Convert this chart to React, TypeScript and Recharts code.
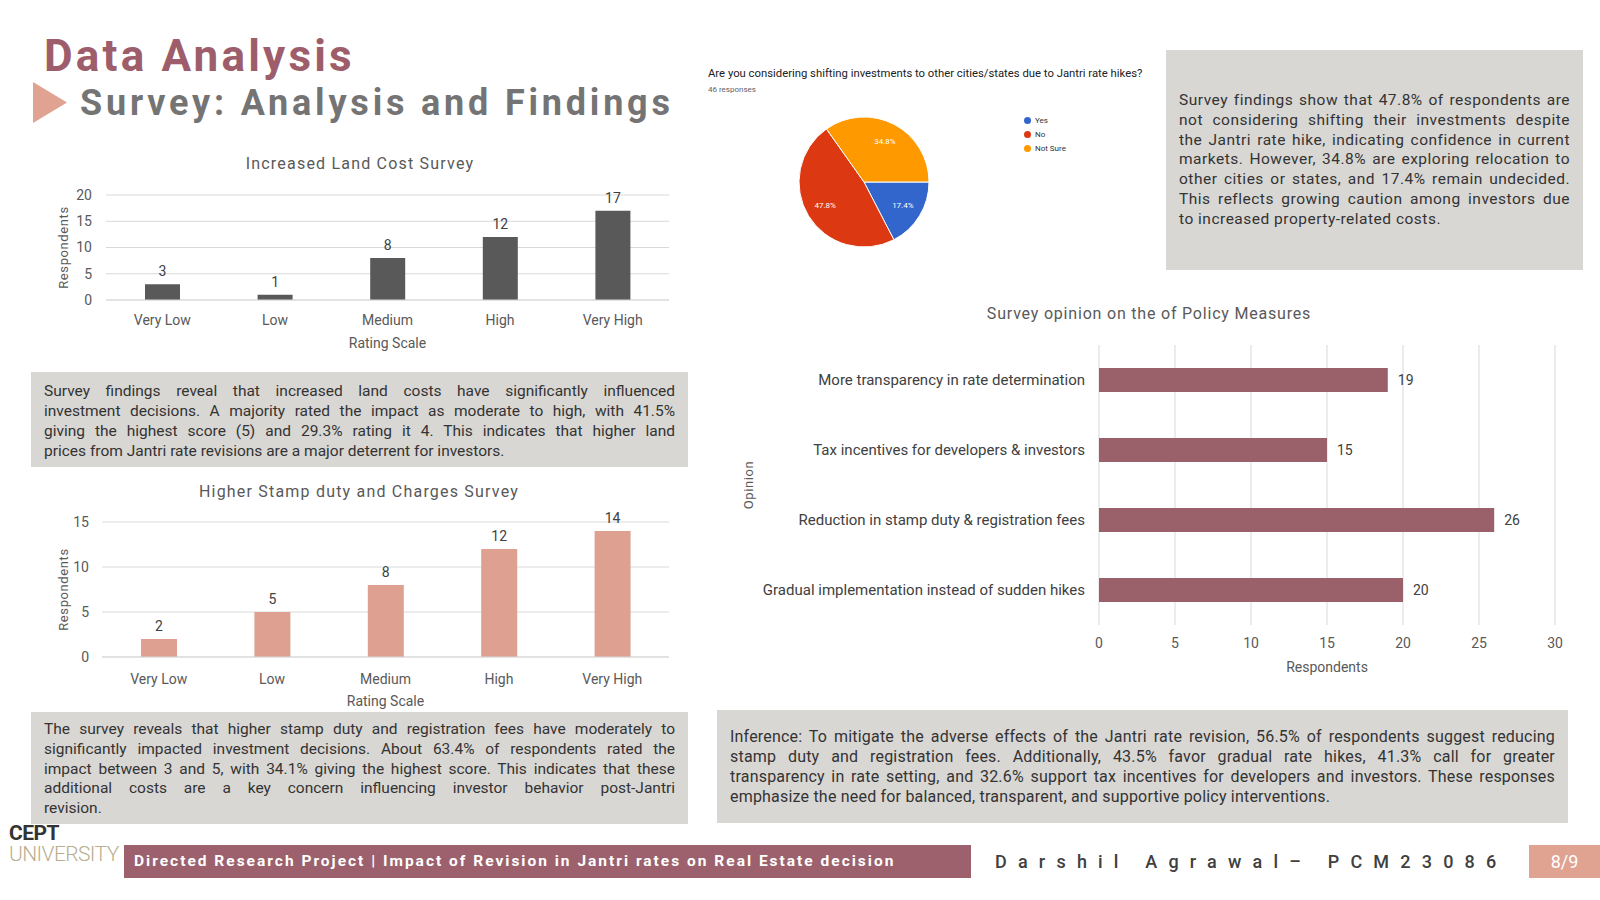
import React from 'react';
import { BarChart, Bar, XAxis, YAxis, CartesianGrid, LabelList, PieChart, Pie, Cell, Legend } from 'recharts';

const FONT = 'Roboto, "Noto Sans", sans-serif';

const ratingScale = ['Very Low', 'Low', 'Medium', 'High', 'Very High'];
const landCostValues = [3, 1, 8, 12, 17];
const landCostTicks = [0, 5, 10, 15, 20];
const stampDutyValues = [2, 5, 8, 12, 14];
const stampDutyTicks = [0, 5, 10, 15];

const shiftAnswers = ['Yes', 'No', 'Not Sure'];
const shiftShares = [17.4, 47.8, 34.8];
const shiftColors = ['#3366cc', '#dc3912', '#ff9900'];

const policyMeasures = [
  'More transparency in rate determination',
  'Tax incentives for developers & investors',
  'Reduction in stamp duty & registration fees',
  'Gradual implementation instead of sudden hikes',
];
const policyValues = [19, 15, 26, 20];
const policyTicks = [0, 5, 10, 15, 20, 25, 30];

const landText = [
  'Survey findings reveal that increased land costs have significantly influenced',
  'investment decisions. A majority rated the impact as moderate to high, with 41.5%',
  'giving the highest score (5) and 29.3% rating it 4. This indicates that higher land',
  'prices from Jantri rate revisions are a major deterrent for investors.',
];
const stampText = [
  'The survey reveals that higher stamp duty and registration fees have moderately to',
  'significantly impacted investment decisions. About 63.4% of respondents rated the',
  'impact between 3 and 5, with 34.1% giving the highest score. This indicates that these',
  'additional costs are a key concern influencing investor behavior post-Jantri',
  'revision.',
];
const shiftText = [
  'Survey findings show that 47.8% of respondents are',
  'not considering shifting their investments despite',
  'the Jantri rate hike, indicating confidence in current',
  'markets. However, 34.8% are exploring relocation to',
  'other cities or states, and 17.4% remain undecided.',
  'This reflects growing caution among investors due',
  'to increased property-related costs.',
];
const policyText = [
  'Inference: To mitigate the adverse effects of the Jantri rate revision, 56.5% of respondents suggest reducing',
  'stamp duty and registration fees. Additionally, 43.5% favor gradual rate hikes, 41.3% call for greater',
  'transparency in rate setting, and 32.6% support tax incentives for developers and investors. These responses',
  'emphasize the need for balanced, transparent, and supportive policy interventions.',
];

const landData = ratingScale.map((r, i) => ({ rating: r, value: landCostValues[i] }));
const stampData = ratingScale.map((r, i) => ({ rating: r, value: stampDutyValues[i] }));
const shiftData = shiftAnswers.map((a, i) => ({ name: a, value: shiftShares[i] }));
const policyData = policyMeasures.map((m, i) => ({ measure: m, value: policyValues[i] }));

const RADIAN = Math.PI / 180;

function TextBox(props: { left: number; top: number; width: number; height: number; padTop: number; padX: number; lines: string[]; fontSize: number; lineHeight: number; letterSpacing?: number }) {
  const { left, top, width, height, padTop, padX, lines, fontSize, lineHeight, letterSpacing } = props;
  return (
    <div style={{ position: 'absolute', left, top, width, height, background: '#d9d7d3', boxSizing: 'border-box', paddingTop: padTop, paddingLeft: padX, paddingRight: padX }}>
      {lines.map((l, i) => (
        <div key={i} style={{ fontSize, lineHeight: lineHeight + 'px', height: lineHeight, color: '#333', whiteSpace: 'nowrap', letterSpacing: letterSpacing || 0, textAlign: 'justify', textAlignLast: i === lines.length - 1 ? 'left' : 'justify' } as any}>{l}</div>
      ))}
    </div>
  );
}

const xTitle = (text: string, dy: number) => (p: any) => {
  const vb = p.viewBox || {};
  return (
    <text x={vb.x + vb.width / 2} y={vb.y + dy} textAnchor="middle" dominantBaseline="central" fontSize={14} fill="#595959" fontFamily={FONT}>{text}</text>
  );
};
const yTitle = (text: string, dx: number) => (p: any) => {
  const vb = p.viewBox || {};
  const cx = vb.x + dx;
  const cy = vb.y + vb.height / 2;
  return (
    <text x={cx} y={cy} transform={`rotate(-90 ${cx} ${cy})`} textAnchor="middle" dominantBaseline="central" fontSize={13} letterSpacing={0.6} fill="#595959" fontFamily={FONT}>{text}</text>
  );
};

const pieLabel = (p: any) => {
  const r = p.outerRadius * 0.7;
  const x = p.cx + r * Math.cos(-p.midAngle * RADIAN);
  const y = p.cy + r * Math.sin(-p.midAngle * RADIAN);
  return (
    <text x={x} y={y} fill="#fff" fontSize={8} textAnchor="middle" dominantBaseline="central" fontFamily={FONT}>{p.value.toFixed(1)}%</text>
  );
};

function ChartTitle(props: { x: number; y: number; text: string; ls: number }) {
  return (
    <div style={{ position: 'absolute', left: props.x - 300, top: props.y - 11, width: 600, textAlign: 'center', fontSize: 16, lineHeight: '22px', color: '#595959', letterSpacing: props.ls }}>{props.text}</div>
  );
}

export default function App() {
  const tick = { fontSize: 14, fill: '#595959', fontFamily: FONT };
  return (
    <div style={{ position: 'absolute', left: 0, top: 0, width: 1600, height: 900, background: '#fff', fontFamily: FONT, overflow: 'hidden' }}>
      {/* Headings */}
      <div style={{ position: 'absolute', left: 44, top: 30, fontSize: 44, lineHeight: '52px', fontWeight: 700, color: '#9d5d6a', letterSpacing: 3.2 }}>Data Analysis</div>
      <svg style={{ position: 'absolute', left: 33, top: 82 }} width={36} height={42}>
        <polygon points="0,0 34,20.5 0,41" fill="#e0a291" />
      </svg>
      <div style={{ position: 'absolute', left: 80, top: 82, fontSize: 36, lineHeight: '42px', fontWeight: 700, color: '#747474', letterSpacing: 3.8, whiteSpace: 'nowrap' }}>Survey: Analysis and Findings</div>

      {/* Chart 1 */}
      <ChartTitle x={360} y={164} text="Increased Land Cost Survey" ls={1.2} />
      <div style={{ position: 'absolute', left: 0, top: 150 }}>
        <BarChart width={700} height={210} data={landData} margin={{ top: 45, right: 31, left: 0, bottom: 0 }}>
          <CartesianGrid vertical={false} stroke="#d9d9d9" />
          <XAxis dataKey="rating" height={60} axisLine={{ stroke: '#d9d9d9' }} tickLine={false} tickSize={0} tickMargin={15} tick={tick} interval={0} label={{ content: xTitle('Rating Scale', 43) }} />
          <YAxis width={106} domain={[0, 20]} ticks={landCostTicks} axisLine={false} tickLine={false} tickSize={0} tickMargin={14} tick={tick} label={{ content: yTitle('Respondents', 63) }} />
          <Bar dataKey="value" fill="#595959" barSize={35} isAnimationActive={false}>
            <LabelList dataKey="value" position="top" offset={8} fill="#404040" fontSize={14} />
          </Bar>
        </BarChart>
      </div>

      <TextBox left={31} top={372} width={657} height={95} padTop={9} padX={13} lines={landText} fontSize={15.5} lineHeight={20} />

      {/* Chart 2 */}
      <ChartTitle x={359} y={492} text="Higher Stamp duty and Charges Survey" ls={1.2} />
      <div style={{ position: 'absolute', left: 0, top: 470 }}>
        <BarChart width={700} height={250} data={stampData} margin={{ top: 52, right: 31, left: 0, bottom: 0 }}>
          <CartesianGrid vertical={false} stroke="#d9d9d9" />
          <XAxis dataKey="rating" height={63} axisLine={{ stroke: '#d9d9d9' }} tickLine={false} tickSize={0} tickMargin={17} tick={tick} interval={0} label={{ content: xTitle('Rating Scale', 44) }} />
          <YAxis width={102} domain={[0, 15]} ticks={stampDutyTicks} axisLine={false} tickLine={false} tickSize={0} tickMargin={13} tick={tick} label={{ content: yTitle('Respondents', 63) }} />
          <Bar dataKey="value" fill="#dea090" barSize={36} isAnimationActive={false}>
            <LabelList dataKey="value" position="top" offset={8} fill="#404040" fontSize={14} />
          </Bar>
        </BarChart>
      </div>

      <TextBox left={31} top={712} width={657} height={112} padTop={8} padX={13} lines={stampText} fontSize={15.5} lineHeight={19.8} />

      {/* Pie */}
      <div style={{ position: 'absolute', left: 708, top: 67, fontSize: 11.3, color: '#202124', whiteSpace: 'nowrap' }}>Are you considering shifting investments to other cities/states due to Jantri rate hikes?</div>
      <div style={{ position: 'absolute', left: 708, top: 85, fontSize: 8, color: '#5f6368' }}>46 responses</div>
      <div style={{ position: 'absolute', left: 714, top: 82 }}>
        <PieChart width={400} height={200} margin={{ top: 0, right: 0, left: 0, bottom: 0 }}>
          <Pie data={shiftData} dataKey="value" nameKey="name" cx={150} cy={100} outerRadius={65} startAngle={0} endAngle={-360} stroke="#fff" strokeWidth={1} label={pieLabel} labelLine={false} isAnimationActive={false}>
            {shiftData.map((d, i) => <Cell key={d.name} fill={shiftColors[i]} />)}
          </Pie>
          <Legend layout="vertical" align="right" verticalAlign="top" iconType="circle" iconSize={7}
            itemSorter={(item: any) => shiftAnswers.indexOf(item.value)}
            wrapperStyle={{ left: 310, right: 'auto', top: 32, width: 'auto', fontSize: 8, lineHeight: '14px' }}
            formatter={(v: any) => <span style={{ color: '#333', fontSize: 8 }}>{v}</span>} />
        </PieChart>
      </div>

      <TextBox left={1166} top={50} width={417} height={220} padTop={41} padX={13} lines={shiftText} fontSize={15.5} lineHeight={19.8} letterSpacing={0.5} />

      {/* Chart 4 */}
      <ChartTitle x={1149} y={314} text="Survey opinion on the of Policy Measures" ls={0.8} />
      <div style={{ position: 'absolute', left: 720, top: 330 }}>
        <BarChart layout="vertical" width={880} height={350} data={policyData} margin={{ top: 15, right: 45, left: 0, bottom: 0 }}>
          <CartesianGrid horizontal={false} stroke="#d9d9d9" />
          <XAxis type="number" domain={[0, 30]} ticks={policyTicks} height={55} axisLine={false} tickLine={false} tickSize={0} tickMargin={13} tick={tick} label={{ content: xTitle('Respondents', 42) }} />
          <YAxis type="category" dataKey="measure" width={379} axisLine={false} tickLine={false} tickSize={0} tickMargin={14} tick={{ fontSize: 15, fill: '#404040', fontFamily: FONT }} interval={0} label={{ content: yTitle('Opinion', 28) }} />
          <Bar dataKey="value" fill="#9b616b" barSize={24} isAnimationActive={false}>
            <LabelList dataKey="value" position="right" offset={10} fill="#404040" fontSize={14} />
          </Bar>
        </BarChart>
      </div>

      <TextBox left={717} top={710} width={851} height={113} padTop={17} padX={13} lines={policyText} fontSize={16} lineHeight={20} letterSpacing={0.2} />

      {/* Footer */}
      <div style={{ position: 'absolute', left: 9, top: 822, fontSize: 21, lineHeight: '22px', fontWeight: 700, color: '#333', letterSpacing: -0.5 }}>CEPT</div>
      <div style={{ position: 'absolute', left: 9, top: 843, fontSize: 21, lineHeight: '22px', fontWeight: 300, color: '#b9ae8e', letterSpacing: -0.6 }}>UNIVERSITY</div>
      <div style={{ position: 'absolute', left: 124, top: 845, width: 847, height: 33, background: '#9c616c', color: '#fff', fontSize: 15.5, fontWeight: 700, lineHeight: '33px', paddingLeft: 10, boxSizing: 'border-box', letterSpacing: 2.0, whiteSpace: 'nowrap' }}>Directed Research Project | Impact of Revision in Jantri rates on Real Estate decision</div>
      <div style={{ position: 'absolute', left: 995, top: 845, height: 33, lineHeight: '33px', fontSize: 18, fontWeight: 500, color: '#404040', letterSpacing: 11.2, whiteSpace: 'nowrap' }}>Darshil Agrawal– PCM23086</div>
      <div style={{ position: 'absolute', left: 1529, top: 845, width: 71, height: 33, background: '#e0a291', color: '#fff', fontSize: 18, lineHeight: '33px', textAlign: 'center' }}>8/9</div>
    </div>
  );
}
